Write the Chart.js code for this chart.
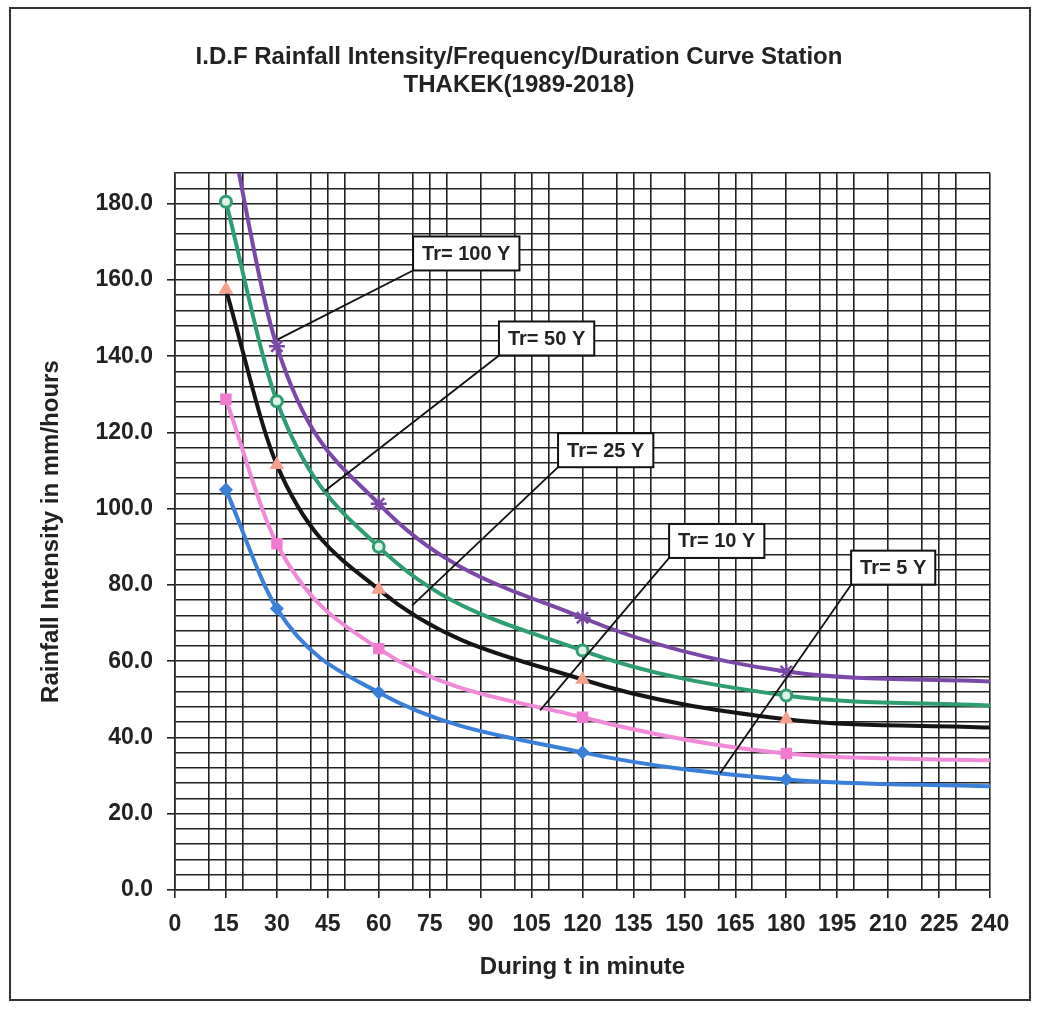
<!DOCTYPE html>
<html>
<head>
<meta charset="utf-8">
<title>IDF curve THAKEK</title>
<script src="https://cdn.jsdelivr.net/npm/chart.js@4.4.0/dist/chart.umd.min.js"></script>
<style>
  body { margin: 0; background: #fff; }
  #wrap { width: 1038px; height: 1012px; }
</style>
</head>
<body>
<div id="wrap"><canvas id="myChart" width="1038" height="1012"></canvas></div>
<script>
// durations (minutes) and intensities (mm/h)
const durations = [15, 30, 60, 120, 180, 240];
const tr5   = [105.0, 73.8, 51.8, 36.1, 29.0, 27.2];
const tr10  = [128.7, 90.8, 63.3, 45.3, 35.8, 34.0];
const tr25  = [157.5, 111.5, 78.8, 55.2, 44.8, 42.6];
const tr50  = [180.5, 128.2, 90.0, 62.8, 51.0, 48.4];
const tr100 = [205.0, 142.6, 101.3, 71.4, 57.3, 54.7];

const seriesNames = ['Tr= 5 Y', 'Tr= 10 Y', 'Tr= 25 Y', 'Tr= 50 Y', 'Tr= 100 Y'];
const xTicks = [0, 15, 30, 45, 60, 75, 90, 105, 120, 135, 150, 165, 180, 195, 210, 225, 240];
const yTicks = [0, 20, 40, 60, 80, 100, 120, 140, 160, 180];

// callout boxes: [t, value] of box top-left, [t, value] where the leader line ends
const callouts = [
  { text: 'Tr= 100 Y', box: [70.1, 171.4], to: [30.3, 144.4] },
  { text: 'Tr= 50 Y',  box: [95.4, 149.1], to: [44.2, 104.7] },
  { text: 'Tr= 25 Y',  box: [112.8, 119.8], to: [69.8, 74.6] },
  { text: 'Tr= 10 Y',  box: [145.5, 96.0], to: [107.5, 47.1] },
  { text: 'Tr= 5 Y',   box: [199.1, 89.0], to: [160.5, 30.6] }
];

const FONT = '"Liberation Sans", Arial, sans-serif';
const INK = '#222';

const pts = vals => durations.map((t, i) => ({ x: t, y: vals[i] }));
const lastIdx = durations.length - 1;
const rad = r => ctx => (ctx.dataIndex === lastIdx ? 0 : r);

const mkSet = (label, vals, line, style, fill, r) => ({
  label: label,
  data: pts(vals),
  borderColor: line,
  borderWidth: 4,
  pointStyle: style,
  pointRadius: rad(r),
  pointBackgroundColor: fill,
  pointBorderColor: style === 'circle' ? line : fill,
  pointBorderWidth: style === 'circle' ? 3 : (style === 'star' ? 2.5 : 1.5),
  cubicInterpolationMode: 'monotone',
  fill: false
});

const datasets = [
  mkSet(seriesNames[0], tr5, '#3a7fd8', 'rectRot', '#3a7fd8', 6),
  mkSet(seriesNames[1], tr10, '#f08ad8', 'rect', '#f07ad0', 7),
  mkSet(seriesNames[2], tr25, '#151515', 'triangle', '#f5a08c', 7),
  mkSet(seriesNames[3], tr50, '#2f9d72', 'circle', '#dff2e8', 5.5),
  mkSet(seriesNames[4], tr100, '#7b48a8', 'star', '#7b48a8', 8)
];

const calloutPlugin = {
  id: 'callouts',
  afterDatasetsDraw(chart) {
    const { ctx, scales: { x, y } } = chart;
    ctx.save();
    ctx.font = 'bold 20px ' + FONT;
    callouts.forEach(c => {
      const bx = x.getPixelForValue(c.box[0]);
      const by = y.getPixelForValue(c.box[1]);
      const w = ctx.measureText(c.text).width + 18;
      const h = 34;
      ctx.strokeStyle = '#111';
      ctx.lineWidth = 1.8;
      ctx.beginPath();
      ctx.moveTo(bx, by + h);
      ctx.lineTo(x.getPixelForValue(c.to[0]), y.getPixelForValue(c.to[1]));
      ctx.stroke();
      ctx.fillStyle = '#fff';
      ctx.fillRect(bx, by, w, h);
      ctx.lineWidth = 2;
      ctx.strokeRect(bx, by, w, h);
      ctx.fillStyle = INK;
      ctx.textAlign = 'center';
      ctx.textBaseline = 'middle';
      ctx.fillText(c.text, bx + w / 2, by + h / 2 + 1);
    });
    ctx.restore();
  }
};

const pagePlugin = {
  id: 'page',
  beforeDraw(chart) {
    const ctx = chart.ctx;
    ctx.save();
    ctx.fillStyle = '#fff';
    ctx.fillRect(0, 0, chart.width, chart.height);
    ctx.restore();
  },
  afterDraw(chart) {
    const ctx = chart.ctx;
    ctx.save();
    ctx.strokeStyle = '#333';
    ctx.lineWidth = 2;
    ctx.strokeRect(10, 8, 1020, 992);
    ctx.restore();
  }
};

new Chart(document.getElementById('myChart'), {
  type: 'line',
  data: { datasets: datasets },
  plugins: [pagePlugin, calloutPlugin],
  options: {
    responsive: false,
    animation: false,
    layout: { padding: 0 },
    plugins: {
      legend: { display: false },
      tooltip: { enabled: false },
      title: {
        display: true,
        text: ['I.D.F Rainfall Intensity/Frequency/Duration Curve Station', 'THAKEK(1989-2018)'],
        color: INK,
        font: { family: FONT, size: 24, weight: 'bold', lineHeight: 1.17 },
        padding: { top: 43, bottom: 74 }
      }
    },
    scales: {
      x: {
        type: 'linear',
        min: 0,
        max: 240,
        afterFit: s => { s.height = 122; },
        border: { color: INK, width: 1.5 },
        grid: {
          color: c => (c.tick && (c.tick.value % 10 === 0 || c.tick.value % 15 === 0)) ? INK : 'rgba(0,0,0,0)',
          tickColor: c => (c.tick && xTicks.includes(c.tick.value)) ? INK : 'rgba(0,0,0,0)',
          lineWidth: 1.6,
          tickLength: 8
        },
        ticks: {
          stepSize: 5,
          autoSkip: false,
          maxRotation: 0,
          padding: 13,
          color: INK,
          font: { family: FONT, size: 23, weight: 'bold' },
          callback: v => (xTicks.includes(v) ? String(v) : '')
        },
        title: {
          display: true,
          text: 'During t in minute',
          color: INK,
          font: { family: FONT, size: 24, weight: 'bold', lineHeight: 1.2 },
          padding: { top: 0, bottom: 30 }
        }
      },
      y: {
        min: 0,
        max: 188,
        afterFit: s => { s.width = 175; },
        border: { color: INK, width: 1.5 },
        grid: {
          color: INK,
          tickColor: c => (c.tick && yTicks.includes(c.tick.value)) ? INK : 'rgba(0,0,0,0)',
          lineWidth: 1.6,
          tickLength: 8
        },
        ticks: {
          stepSize: 4,
          autoSkip: false,
          padding: 14,
          color: INK,
          font: { family: FONT, size: 23, weight: 'bold' },
          callback: v => (yTicks.includes(v) ? v.toFixed(1) : '')
        },
        title: {
          display: true,
          text: 'Rainfall Intensity in mm/hours',
          color: INK,
          font: { family: FONT, size: 24, weight: 'bold', lineHeight: 1.2 },
          padding: { top: 37, bottom: 0 }
        }
      },
      // empty right-hand axis only reserves the margin right of the plot
      yRight: {
        position: 'right',
        display: true,
        afterFit: s => { s.width = 48; },
        grid: { display: false, drawTicks: false },
        border: { display: false },
        ticks: { display: false }
      }
    }
  }
});
</script>
</body>
</html>
